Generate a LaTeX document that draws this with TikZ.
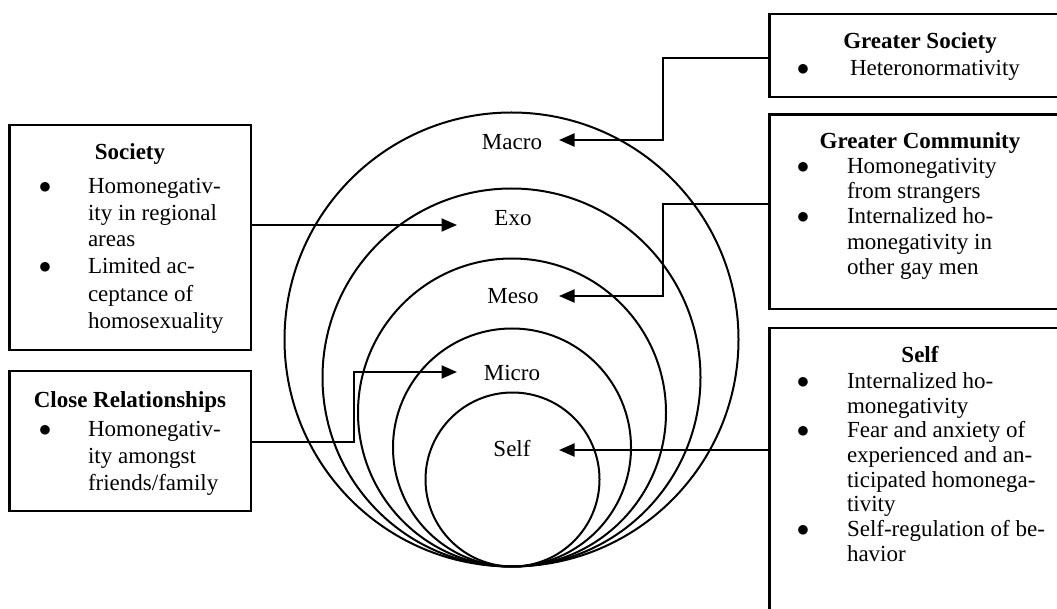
\documentclass[tikz,border=0pt]{standalone}
\usepackage{fontspec}
\setmainfont{Liberation Serif}
\usetikzlibrary{arrows.meta}
\tikzset{
  every node/.style={font=\fontsize{23}{26}\selectfont, inner sep=0pt, outer sep=0pt},
  ring/.style={circle, draw, line width=2pt, minimum size=#1},
  boxst/.style={rectangle, draw, line width=2.3pt},
  ttl/.style={font=\fontsize{23}{26}\selectfont\bfseries, anchor=base},
  itm/.style={anchor=base west},
  bul/.style={anchor=base},
  lvl/.style={anchor=center},
  conn/.style={line width=2pt, -{Triangle[length=15.5pt,width=13pt]}},
}
\newcommand{\bulmark}{$\bullet$}
\begin{document}
\begin{tikzpicture}[x=1pt,y=-1pt]
\useasboundingbox (0,0) rectangle (1057,609);
\clip (0,0) rectangle (1057,609);
% rings
\node[ring=454pt] (cMacro) at (511.5,339.5) {};
\node[ring=378pt] (cExo)   at (511.5,377.5) {};
\node[ring=308pt] (cMeso)  at (512,412.5) {};
\node[ring=238pt] (cMicro) at (512,447.5) {};
\node[ring=174pt] (cSelf)  at (512.5,479.5) {};
% ring labels
\node[lvl] (lMacro) at (512,142) {Macro};
\node[lvl] (lExo)   at (513,218) {Exo};
\node[lvl] (lMeso)  at (513,296) {Meso};
\node[lvl] (lMicro) at (512,373) {Micro};
\node[lvl] (lSelf)  at (512,449) {Self};
% boxes
\node[boxst, minimum width=241.7pt, minimum height=225pt] (bSoc) at (130.2,237.5) {};
\node[boxst, minimum width=241.7pt, minimum height=140pt] (bClose) at (130.2,441) {};
\node[boxst, minimum width=301pt, minimum height=83pt] (bGS) at (920,55.5) {};
\node[boxst, minimum width=301pt, minimum height=194.5pt] (bGC) at (920,211.75) {};
\node[boxst, minimum width=301pt, minimum height=300pt] (bSelf) at (920,478) {};
% Society text
\node[ttl] (tSoc) at (130,160) {Society};
\node[bul] (sb1) at (45,193.5) {\bulmark};
\node[itm] (s1) at (88,193.5) {Homonegativ-};
\node[itm] (s2) at (88,220.5) {ity in regional};
\node[itm] (s3) at (88,247) {areas};
\node[bul] (sb2) at (45,274) {\bulmark};
\node[itm] (s4) at (88,274) {Limited ac-};
\node[itm] (s5) at (88,301.5) {ceptance of};
\node[itm] (s6) at (88,329) {homosexuality};
% Close text
\node[ttl] (tClose) at (130,407) {Close Relationships};
\node[bul] (cb1) at (45,436.5) {\bulmark};
\node[itm] (c1) at (88,436.5) {Homonegativ-};
\node[itm] (c2) at (88,463.3) {ity amongst};
\node[itm] (c3) at (88,490) {friends/family};
% Greater Society text
\node[ttl] (tGS) at (920,49) {Greater Society};
\node[bul] (gsb1) at (803,76) {\bulmark};
\node[itm] (gs1) at (850,76) {Heteronormativity};
% Greater Community text
\node[ttl] (tGC) at (920,148.5) {Greater Community};
\node[bul] (gcb1) at (803,173.5) {\bulmark};
\node[itm] (gc1) at (847,173.5) {Homonegativity};
\node[itm] (gc2) at (847,198.5) {from strangers};
\node[bul] (gcb2) at (803,223.5) {\bulmark};
\node[itm] (gc3) at (847,223.5) {Internalized ho-};
\node[itm] (gc4) at (847,249.5) {monegativity in};
\node[itm] (gc5) at (847,275) {other gay men};
% Self text
\node[ttl] (tSelf) at (920,362.7) {Self};
\node[bul] (sfb1) at (803,388.5) {\bulmark};
\node[itm] (sf1) at (847,388.5) {Internalized ho-};
\node[itm] (sf2) at (847,413) {monegativity};
\node[bul] (sfb2) at (803,437.5) {\bulmark};
\node[itm] (sf3) at (847,437.5) {Fear and anxiety of};
\node[itm] (sf4) at (847,462) {experienced and an-};
\node[itm] (sf5) at (847,487) {ticipated homonega-};
\node[itm] (sf6) at (847,511.5) {tivity};
\node[bul] (sfb3) at (803,536.5) {\bulmark};
\node[itm] (sf7) at (847,536.5) {Self-regulation of be-};
\node[itm] (sf8) at (847,561.5) {havior};
% connector coordinates
\coordinate (tipMacro) at (559,140);
\coordinate (tipExo)   at (457,225);
\coordinate (tipMeso)  at (559,296);
\coordinate (tipMicro) at (457,372);
\coordinate (tipSelf)  at (559,450);
\coordinate (bendMacro) at (663,58);
\coordinate (bendMeso)  at (663,204);
\coordinate (bendMicro) at (354,441.7);
% connectors
\draw[conn] (bGS.west |- bendMacro) -- (bendMacro) |- (tipMacro);
\draw[conn] (bSoc.east |- tipExo) -- (tipExo);
\draw[conn] (bGC.west |- bendMeso) -- (bendMeso) |- (tipMeso);
\draw[conn] (bClose.east |- bendMicro) -- (bendMicro) |- (tipMicro);
\draw[conn] (bSelf.west |- tipSelf) -- (tipSelf);
\end{tikzpicture}
\end{document}
